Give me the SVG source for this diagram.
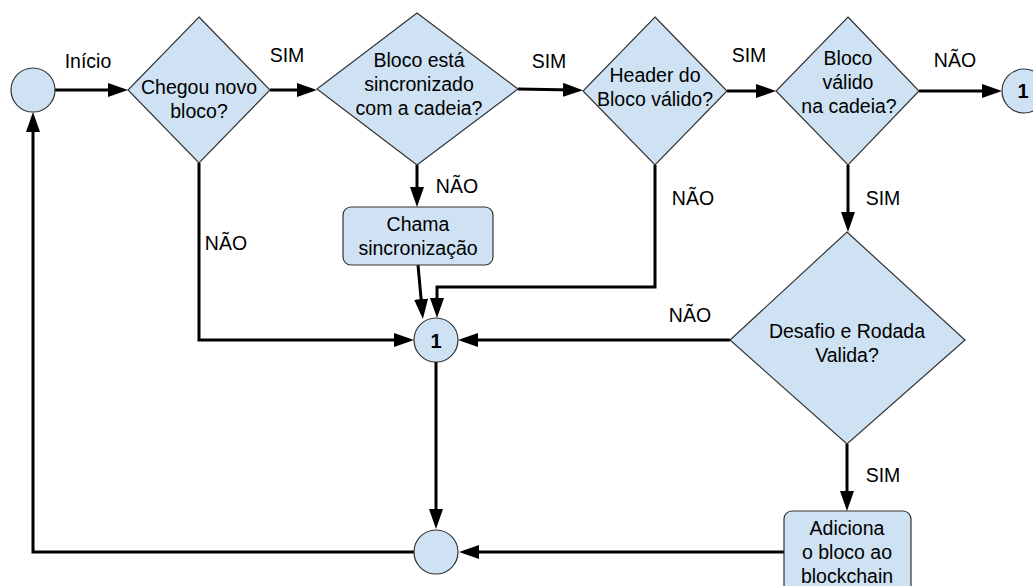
<svg xmlns="http://www.w3.org/2000/svg" width="1033" height="586" viewBox="0 0 1033 586">
  <style>
    .shape { fill: #cfe2f3; stroke: #333333; stroke-width: 1.2; }
    .txt { font-family: "Liberation Sans", Arial, sans-serif; font-size: 19.5px; fill: #000; text-anchor: middle; }
    .num { font-family: "Liberation Sans", Arial, sans-serif; font-size: 20px; font-weight: bold; fill: #000; text-anchor: middle; }
    .edge { fill: none; stroke: #000; stroke-width: 3; marker-end: url(#arrow); }
  </style>
  <defs>
    <marker id="arrow" markerUnits="userSpaceOnUse" markerWidth="20" markerHeight="14" refX="10" refY="7" orient="auto">
      <path d="M0,0 L20,7 L0,14 z" fill="#000"/>
    </marker>
  </defs>
  <rect width="1033" height="586" fill="#ffffff"/>

  <!-- connectors -->
  <g id="connectors">
    <path class="edge" d="M55,90 L118,90"/>
    <path class="edge" d="M270,90 L307,90"/>
    <path class="edge" d="M518,89 L573,90"/>
    <path class="edge" d="M727,91 L766,91"/>
    <path class="edge" d="M919,91 L992,91"/>
    <path class="edge" d="M199,163 L199,340 L404,340"/>
    <path class="edge" d="M417,165 L417,197"/>
    <path class="edge" d="M418,265 L422,309"/>
    <path class="edge" d="M655,165 L655,287 L437,287 L437,308"/>
    <path class="edge" d="M848,165 L848,222"/>
    <path class="edge" d="M730,340 L468,340"/>
    <path class="edge" d="M847,444 L847,501"/>
    <path class="edge" d="M784,552 L469,552"/>
    <path class="edge" d="M436,362 L436,519"/>
    <path class="edge" d="M414,552 L33,552 L33,122"/>

    <text class="txt" x="88" y="68">Início</text>
    <text class="txt" x="287" y="62">SIM</text>
    <text class="txt" x="549" y="68">SIM</text>
    <text class="txt" x="749" y="62">SIM</text>
    <text class="txt" x="955" y="67">NÃO</text>
    <text class="txt" x="226" y="250">NÃO</text>
    <text class="txt" x="457" y="193">NÃO</text>
    <text class="txt" x="693" y="205">NÃO</text>
    <text class="txt" x="883" y="205">SIM</text>
    <text class="txt" x="690" y="322">NÃO</text>
    <text class="txt" x="883" y="482">SIM</text>
  </g>

  <g id="start">
    <circle class="shape" cx="33" cy="90" r="22"/>
  </g>

  <g id="chegou-novo-bloco">
    <polygon class="shape" points="199,17 270,90 199,163 128,90"/>
    <text class="txt" x="199" y="94">Chegou novo</text>
    <text class="txt" x="199" y="118">bloco?</text>
  </g>

  <g id="bloco-sincronizado">
    <polygon class="shape" points="417,13 518,89 417,165 317,89"/>
    <text class="txt" x="419" y="67">Bloco está</text>
    <text class="txt" x="419" y="91">sincronizado</text>
    <text class="txt" x="419" y="115">com a cadeia?</text>
  </g>

  <g id="header-valido">
    <polygon class="shape" points="655,17 727,91 655,165 583,91"/>
    <text class="txt" x="655" y="82">Header do</text>
    <text class="txt" x="655" y="106">Bloco válido?</text>
  </g>

  <g id="bloco-valido">
    <polygon class="shape" points="848,17 919,91 848,165 776,91"/>
    <text class="txt" x="848" y="65">Bloco</text>
    <text class="txt" x="848" y="89">válido</text>
    <text class="txt" x="849" y="113">na cadeia?</text>
  </g>

  <g id="ref-1-out">
    <circle class="shape" cx="1024" cy="91" r="22"/>
    <text class="num" x="1023" y="98">1</text>
  </g>

  <g id="chama-sincronizacao">
    <rect class="shape" x="343" y="207" width="150" height="58" rx="8"/>
    <text class="txt" x="418" y="231">Chama</text>
    <text class="txt" x="418" y="255">sincronização</text>
  </g>

  <g id="ref-1">
    <circle class="shape" cx="436" cy="340" r="22"/>
    <text class="num" x="436" y="348">1</text>
  </g>

  <g id="desafio-rodada">
    <polygon class="shape" points="847,232 965,340 847,444 730,340"/>
    <text class="txt" x="847" y="338">Desafio e Rodada</text>
    <text class="txt" x="847" y="362">Valida?</text>
  </g>

  <g id="adiciona-bloco">
    <rect class="shape" x="784" y="511" width="127" height="82" rx="8"/>
    <text class="txt" x="847" y="535">Adiciona</text>
    <text class="txt" x="847" y="559">o bloco ao</text>
    <text class="txt" x="847" y="583">blockchain</text>
  </g>

  <g id="end">
    <circle class="shape" cx="436" cy="552" r="22"/>
  </g>
</svg>
